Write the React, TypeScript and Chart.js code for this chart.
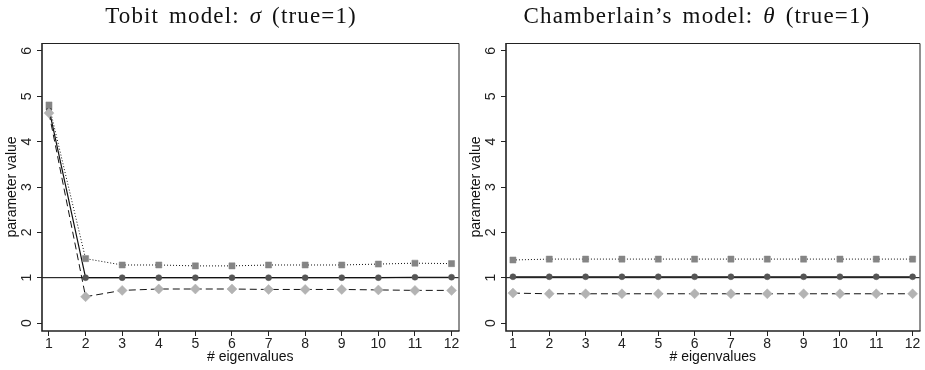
import React, { useEffect, useRef } from "react";
import { Chart, registerables } from "chart.js";

Chart.register(...registerables);

// ---- data ----
const EIGENVALUES = [1, 2, 3, 4, 5, 6, 7, 8, 9, 10, 11, 12];
const X_TICKS = [1, 2, 3, 4, 5, 6, 7, 8, 9, 10, 11, 12];
const Y_TICKS = [0, 1, 2, 3, 4, 5, 6];
const TRUE_VALUE = 1;

// Tobit model: sigma
const TOBIT_MID = [4.72, 1.0, 1.0, 1.0, 1.0, 1.0, 1.0, 1.0, 1.0, 1.0, 1.01, 1.01];
const TOBIT_HIGH = [4.81, 1.42, 1.28, 1.28, 1.26, 1.26, 1.28, 1.28, 1.28, 1.3, 1.32, 1.31];
const TOBIT_LOW = [4.63, 0.58, 0.72, 0.75, 0.75, 0.75, 0.74, 0.74, 0.74, 0.73, 0.72, 0.72];

// Chamberlain's model: theta
const CHAM_MID = [1.02, 1.02, 1.02, 1.02, 1.02, 1.02, 1.02, 1.02, 1.02, 1.02, 1.02, 1.02];
const CHAM_HIGH = [1.39, 1.41, 1.41, 1.41, 1.41, 1.41, 1.41, 1.41, 1.41, 1.41, 1.41, 1.41];
const CHAM_LOW = [0.66, 0.645, 0.645, 0.645, 0.645, 0.645, 0.645, 0.645, 0.645, 0.645, 0.645, 0.645];

const SANS = "'Liberation Sans', Arial, sans-serif";
const AXIS_COLOR = "#222";

const framePlugin = {
  id: "frameAndRef",
  beforeDatasetsDraw(chart: any) {
    const { ctx, chartArea, scales } = chart;
    const y = scales.y.getPixelForValue(TRUE_VALUE);
    ctx.save();
    ctx.strokeStyle = "#000";
    ctx.lineWidth = 1;
    ctx.beginPath();
    ctx.moveTo(chartArea.left, y);
    ctx.lineTo(chartArea.right, y);
    ctx.stroke();
    ctx.restore();
  },
  afterDraw(chart: any) {
    const { ctx, chartArea } = chart;
    const { left, right, top, bottom } = chartArea;
    ctx.save();
    ctx.strokeStyle = AXIS_COLOR;
    ctx.lineWidth = 1;
    ctx.beginPath();
    ctx.moveTo(left, top + 0.5);
    ctx.lineTo(right + 0.5, top + 0.5);
    ctx.lineTo(right + 0.5, bottom);
    ctx.stroke();
    ctx.lineWidth = 1.6;
    ctx.beginPath();
    ctx.moveTo(left, top);
    ctx.lineTo(left, bottom);
    ctx.lineTo(right + 1, bottom);
    ctx.stroke();
    ctx.restore();
  },
};

function pts(values: number[]) {
  return EIGENVALUES.map((x, i) => ({ x, y: values[i] }));
}

function Panel(props: {
  left: number;
  width: number;
  padRight: number;
  mid: number[];
  high: number[];
  low: number[];
}) {
  const ref = useRef<HTMLCanvasElement>(null);
  useEffect(() => {
    const canvas = ref.current;
    if (!canvas) return;
    const chart = new Chart(canvas, {
      type: "line",
      data: {
        datasets: [
          {
            label: "Lower",
            data: pts(props.low),
            borderColor: "#111",
            borderWidth: 1,
            borderDash: [7, 4],
            pointStyle: "rectRot",
            pointRadius: 5,
            pointBackgroundColor: "#b3b3b3",
            pointBorderColor: "#b3b3b3",
            pointBorderWidth: 0.5,
            tension: 0,
            fill: false,
          },
          {
            label: "Upper",
            data: pts(props.high),
            borderColor: "#111",
            borderWidth: 1,
            borderDash: [1, 2],
            pointStyle: "rect",
            pointRadius: 4.3,
            pointBackgroundColor: "#858585",
            pointBorderColor: "#858585",
            pointBorderWidth: 0.5,
            tension: 0,
            fill: false,
          },
          {
            label: "Middle",
            data: pts(props.mid),
            borderColor: "#111",
            borderWidth: 1.2,
            pointStyle: "circle",
            pointRadius: 3,
            pointBackgroundColor: "#555",
            pointBorderColor: "#555",
            pointBorderWidth: 0.5,
            tension: 0,
            fill: false,
          },
        ],
      },
      options: {
        responsive: false,
        animation: false,
        layout: { padding: { top: 43, left: 0, right: props.padRight, bottom: 0 } },
        plugins: { legend: { display: false }, tooltip: { enabled: false } },
        scales: {
          x: {
            type: "linear",
            min: 0.809,
            max: 12.19,
            afterBuildTicks: (s: any) => {
              s.ticks = X_TICKS.map((v) => ({ value: v }));
            },
            afterFit: (s: any) => {
              s.height = 39;
            },
            ticks: {
              autoSkip: false,
              maxRotation: 0,
              minRotation: 0,
              padding: 0,
              color: AXIS_COLOR,
              font: { family: SANS, size: 14 },
            },
            grid: {
              display: true,
              drawOnChartArea: false,
              drawTicks: true,
              tickLength: 5,
              color: AXIS_COLOR,
              lineWidth: 1,
            },
            border: { display: false },
            title: {
              display: true,
              text: "# eigenvalues",
              color: "#111",
              font: { family: SANS, size: 14 },
              padding: { top: 0, bottom: 4 },
            },
          },
          y: {
            type: "linear",
            min: -0.176,
            max: 6.176,
            afterBuildTicks: (s: any) => {
              s.ticks = Y_TICKS.map((v) => ({ value: v }));
            },
            afterFit: (s: any) => {
              s.width = 42;
            },
            ticks: {
              minRotation: 90,
              maxRotation: 90,
              crossAlign: "center",
              padding: 6,
              color: AXIS_COLOR,
              font: { family: SANS, size: 14 },
            },
            grid: {
              display: true,
              drawOnChartArea: false,
              drawTicks: true,
              tickLength: 5,
              color: AXIS_COLOR,
              lineWidth: 1,
            },
            border: { display: false },
            title: {
              display: true,
              text: "parameter value",
              color: "#111",
              font: { family: SANS, size: 14 },
              padding: { top: 4, bottom: 0 },
            },
          },
        },
      },
      plugins: [framePlugin],
    } as any);
    return () => chart.destroy();
  }, []);
  return (
    <canvas
      ref={ref}
      width={props.width}
      height={370}
      style={{ position: "absolute", left: props.left, top: 0, width: props.width, height: 370, display: "block" }}
    />
  );
}

const titleStyle: React.CSSProperties = {
  position: "absolute",
  top: 4,
  width: 460,
  textAlign: "center",
  fontFamily: "'Liberation Serif', 'Times New Roman', serif",
  fontSize: 23,
  lineHeight: "23px",
  letterSpacing: "1.15px",
  wordSpacing: "3px",
  color: "#111",
  whiteSpace: "nowrap",
};

export default function App() {
  return (
    <div style={{ position: "absolute", left: 0, top: 0, width: 925, height: 370, background: "#fff", overflow: "hidden" }}>
      <Panel left={0} width={464} padRight={5} mid={TOBIT_MID} high={TOBIT_HIGH} low={TOBIT_LOW} />
      <Panel left={464} width={461} padRight={2} mid={CHAM_MID} high={CHAM_HIGH} low={CHAM_LOW} />
      <div style={{ ...titleStyle, left: 231 - 230 }}>
        Tobit model: <i>σ</i> (true=1)
      </div>
      <div style={{ ...titleStyle, left: 697 - 230 }}>
        Chamberlain’s model: <i>θ</i> (true=1)
      </div>
    </div>
  );
}
